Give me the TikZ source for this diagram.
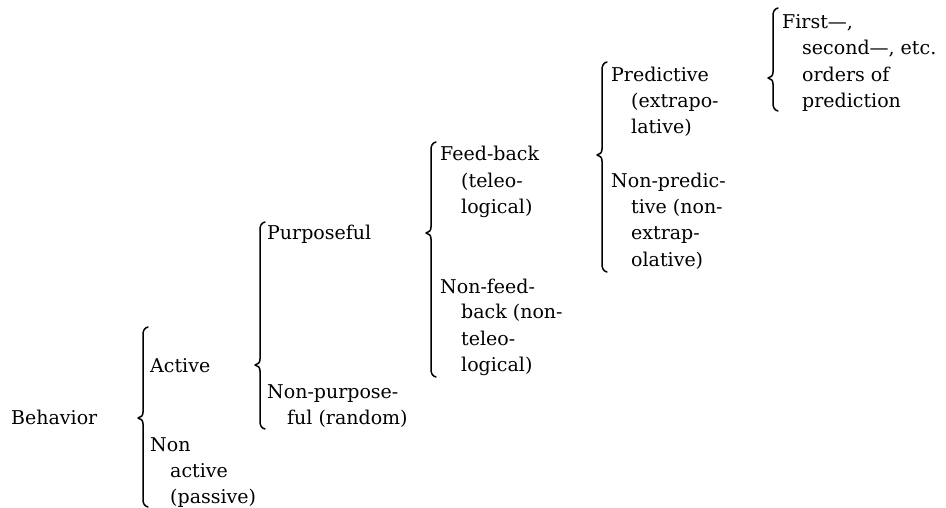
\documentclass[tikz,border=0pt]{standalone}
\usepackage{fontspec}
\setmainfont{DejaVu Serif}
\begin{document}
\begin{tikzpicture}[x=1pt,y=-1pt,
  txt/.style={anchor=base west,inner sep=0pt,font=\fontsize{19}{26}\selectfont},
  bracestyle/.style={line width=1.5pt,line cap=round,line join=round}]
\useasboundingbox (0,0) rectangle (946,508);
\newcommand\mybrace[4]{%
  \draw[bracestyle] ({#1+5},#2) .. controls ({#1+1},{#2+1}) and (#1,{#2+4}) .. (#1,{#2+8})
    -- (#1,{#3-6}) .. controls (#1,{#3-2}) and ({#1-2},{#3-1}) .. ({#1-5},#3)
    .. controls ({#1-2},{#3+1}) and (#1,{#3+2}) .. (#1,{#3+6})
    -- (#1,{#4-8}) .. controls (#1,{#4-4}) and ({#1+1},{#4-1}) .. ({#1+5},#4);}
% braces
\mybrace{143}{327}{418}{507}
\mybrace{260}{222}{365}{429}
\mybrace{431}{142}{233}{377}
\mybrace{602}{62}{155}{272}
\mybrace{773}{8}{78}{111}
% level 0
\node[txt] (beh) at (11,424) {Behavior};
% level 1
\node[txt] (act) at (150,372) {Active};
\node[txt] (non1) at (150,451) {Non};
\node[txt] (non2) at (170,477) {active};
\node[txt] (non3) at (170,503) {(passive)};
% level 2
\node[txt] (pur) at (267,240) {Purposeful};
\node[txt] (npur1) at (267,398) {Non-purpose-};
\node[txt] (npur2) at (287,424) {ful (random)};
% level 3
\node[txt] (fb1) at (440,161) {Feed-back};
\node[txt] (fb2) at (461,188) {(teleo-};
\node[txt] (fb3) at (461,214) {logical)};
\node[txt] (nfb1) at (440,293) {Non-feed-};
\node[txt] (nfb2) at (461,318) {back (non-};
\node[txt] (nfb3) at (461,345) {teleo-};
\node[txt] (nfb4) at (461,371) {logical)};
% level 4
\node[txt] (pr1) at (611,82) {Predictive};
\node[txt] (pr2) at (631,108) {(extrapo-};
\node[txt] (pr3) at (631,134) {lative)};
\node[txt] (npr1) at (611,188) {Non-predic-};
\node[txt] (npr2) at (631,214) {tive (non-};
\node[txt] (npr3) at (631,240) {extrap-};
\node[txt] (npr4) at (631,266) {olative)};
% level 5
\node[txt] (ord1) at (782,29) {First—,};
\node[txt] (ord2) at (802,55) {second—, etc.};
\node[txt] (ord3) at (802,82) {orders of};
\node[txt] (ord4) at (802,108) {prediction};
\end{tikzpicture}
\end{document}
